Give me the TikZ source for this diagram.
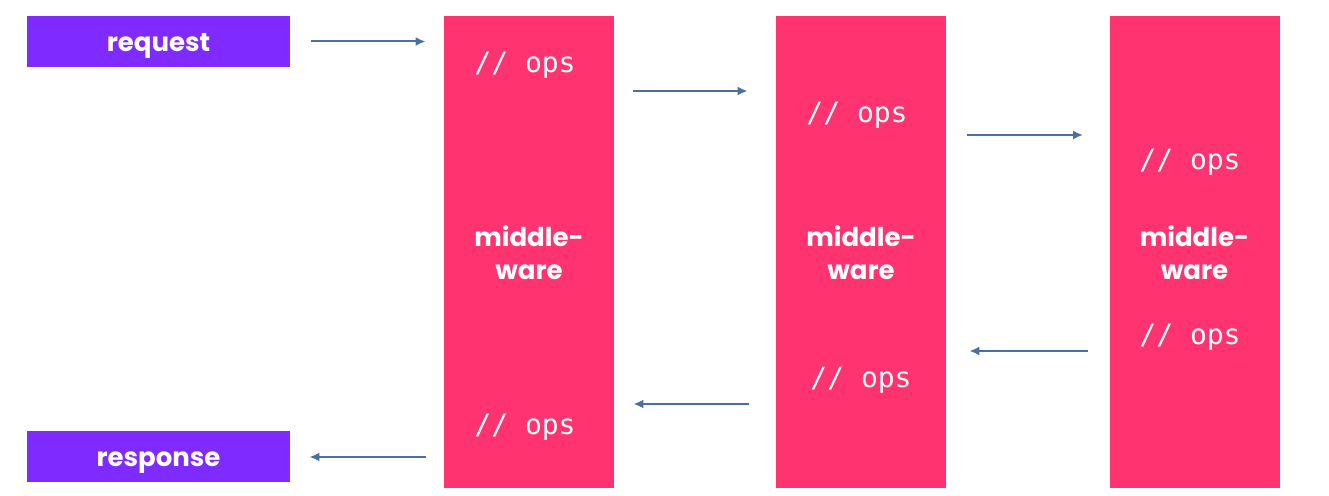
\documentclass[tikz,border=0pt]{standalone}
\usepackage{fontspec}
\setmainfont{Poppins}
\newfontfamily\opsfont{DejaVu Sans Mono}
\usetikzlibrary{positioning,arrows.meta}
\definecolor{reqpurple}{HTML}{7F2BFF}
\definecolor{mwpink}{HTML}{FF3370}
\definecolor{flowblue}{HTML}{4A6FA5}
\begin{document}
\begin{tikzpicture}[
			x=0.5pt, y=-0.5pt,
			endpoint/.style={fill=reqpurple, text=white, inner sep=0pt,
					minimum width=131.5pt, minimum height=25.5pt,
					text height=13pt, text depth=3pt,
					font=\bfseries\fontsize{13}{15}\selectfont},
			mw/.style={fill=mwpink, inner sep=0pt,
					minimum width=85pt, minimum height=236pt},
			mwname/.style={text=white, align=center, inner sep=0pt,
					font=\bfseries\fontsize{13}{16.5}\selectfont},
			ops/.style={text=white, inner sep=0pt,
					font=\opsfont\fontsize{14}{16}\selectfont},
			flow/.style={draw=flowblue, line width=1pt,
					-{Latex[length=5pt,width=4.5pt]}}
		]
		\useasboundingbox (0,0) rectangle (1329,496);

		% request / response
		\node[endpoint] (request) at (158.5,41.5) {request};
		\node[endpoint] (response) at (158.5,457) {response};

		% middleware boxes
		\node[mw] (mw1) at (529,252) {};
		\node[mw] (mw2) at (861,252) {};
		\node[mw] (mw3) at (1194.5,252) {};

		\node[mwname] (name1) at (529,253) {middle-\\ware};
		\node[mwname] (name2) at (861,253) {middle-\\ware};
		\node[mwname] (name3) at (1194.5,253) {middle-\\ware};

		\node[ops] (ops1in) at (525,65) {// ops};
		\node[ops] (ops1out) at (525,427) {// ops};
		\node[ops] (ops2in) at (857,115) {// ops};
		\node[ops] (ops2out) at (861,380) {// ops};
		\node[ops] (ops3in) at (1190,162) {// ops};
		\node[ops] (ops3out) at (1190,337) {// ops};

		% way in
		\draw[flow, shorten <=10.5pt, shorten >=9pt]
		(request.east) -- (mw1.west |- request.east);
		\draw[flow, shorten <=9.5pt, shorten >=14pt]
		(mw1.east |- 0,91) -- (mw2.west |- 0,91);
		\draw[flow, shorten <=10.5pt, shorten >=13pt]
		(mw2.east |- 0,135) -- (mw3.west |- 0,135);

		% way back
		\draw[flow, shorten <=10.5pt, shorten >=11.5pt]
		(mw3.west |- 0,351) -- (mw2.east |- 0,351);
		\draw[flow, shorten <=13.5pt, shorten >=9.5pt]
		(mw2.west |- 0,404) -- (mw1.east |- 0,404);
		\draw[flow, shorten <=9pt, shorten >=9.5pt]
		(mw1.west |- response.east) -- (response.east);
	\end{tikzpicture}
\end{document}
